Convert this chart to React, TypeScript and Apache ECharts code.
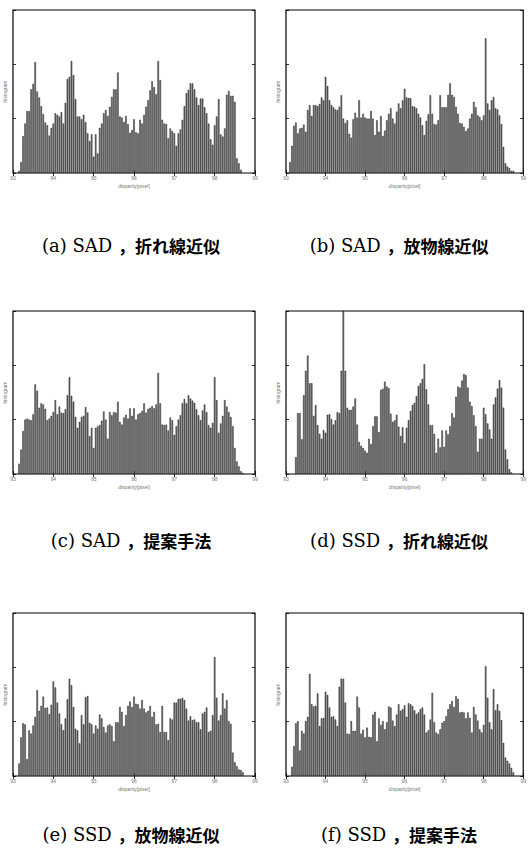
import React, { useEffect, useRef } from "react";
import * as echarts from "echarts";

// bin width of the disparity histograms
const BIN = 0.05;
const X_MIN = 93;
const X_MAX = 99;
const Y_MAX = 3;

// (a) SAD, 折れ線近似
const sadLinearStart = 93.15;
const sadLinear = [
  0.04, 0.2, 0.68, 0.91, 1.14, 1.14, 1.54, 1.64, 2.04, 1.5,
  1.39, 1.23, 1.08, 0.93, 0.88, 0.69, 0.83, 0.91, 1.1, 1.07,
  1.04, 1.12, 0.91, 1.29, 1.73, 1.77, 2.06, 1.8, 1.36, 1.04,
  1.04, 0.99, 1.07, 0.94, 0.73, 0.59, 0.71, 0.3, 0.71, 0.36,
  0.83, 0.91, 1.1, 1.16, 1.05, 1.22, 1.4, 1.54, 1.54, 1.85,
  1.04, 1.02, 0.94, 1.05, 0.9, 0.74, 0.79, 0.99, 0.75, 0.73,
  0.98, 0.91, 1.07, 1.22, 1.34, 1.52, 1.69, 1.58, 1.45, 2.06,
  1.71, 0.98, 0.91, 0.9, 0.64, 0.82, 0.77, 0.73, 0.5, 0.73,
  0.8, 0.98, 1.23, 1.47, 1.53, 1.65, 1.65, 1.54, 1.39, 1.25,
  1.37, 1.37, 1.21, 1.1, 0.91, 0.62, 0.52, 0.88, 1.04, 1.36,
  0.71, 0.67, 0.82, 1.44, 1.51, 1.42, 1.42, 1.31, 0.27, 0.18, 0.06,
];

// (b) SAD, 放物線近似
const sadParabolaStart = 93.1;
const sadParabola = [
  0.2, 0.5, 0.87, 0.93, 0.73, 0.82, 0.83, 0.89, 0.76, 1.16,
  1.25, 1.05, 1.25, 1.25, 1.23, 1.27, 1.39, 1.34, 1.77, 1.6,
  1.34, 1.25, 1.21, 1.17, 1.16, 1.22, 1.43, 1.0, 0.92, 0.97,
  0.72, 0.65, 0.99, 1.11, 1.02, 1.34, 1.02, 1.09, 1.02, 1.0,
  1.0, 1.14, 1.0, 0.7, 0.97, 0.76, 1.05, 0.68, 0.78, 0.97,
  1.09, 1.19, 1.0, 0.91, 1.13, 1.28, 1.19, 1.34, 1.55, 1.39,
  1.38, 1.38, 1.23, 1.22, 1.19, 1.09, 1.02, 0.88, 0.7, 0.96,
  1.08, 1.43, 1.09, 0.9, 0.89, 0.97, 1.43, 1.21, 1.21, 1.21,
  1.44, 1.65, 1.44, 1.4, 1.22, 1.09, 0.92, 0.91, 0.85, 0.77,
  0.82, 1.0, 1.09, 1.31, 1.21, 1.06, 1.03, 0.97, 1.06, 2.48,
  1.28, 1.16, 1.34, 1.4, 1.19, 1.17, 1.06, 0.9, 0.48, 0.18,
  0.12, 0.09, 0.04, 0.04,
];

// (c) SAD, 提案手法
const sadProposedStart = 93.15;
const sadProposed = [
  0.19, 0.45, 0.79, 1.0, 1.02, 1.0, 0.99, 1.1, 1.65, 1.53,
  1.22, 1.3, 1.28, 1.2, 0.99, 1.02, 1.07, 1.14, 1.36, 1.1,
  1.24, 1.13, 1.12, 1.19, 1.45, 1.78, 1.44, 1.33, 1.05, 0.85,
  0.96, 1.05, 1.07, 1.23, 1.13, 0.7, 0.85, 0.48, 0.85, 0.88,
  0.9, 0.98, 1.15, 1.0, 0.65, 1.14, 1.08, 1.14, 1.13, 1.33,
  0.96, 0.91, 1.04, 1.09, 1.02, 1.21, 1.07, 1.21, 1.0, 1.1,
  1.12, 1.16, 1.3, 1.13, 1.2, 1.22, 1.25, 1.21, 1.28, 1.86,
  1.3, 0.91, 0.9, 0.91, 0.8, 1.04, 0.99, 0.72, 0.88, 1.0,
  1.08, 1.3, 1.38, 1.3, 1.45, 1.39, 1.35, 1.31, 1.19, 1.08,
  0.99, 1.17, 1.28, 1.14, 0.9, 0.85, 0.94, 1.78, 1.36, 0.76,
  0.93, 1.07, 1.36, 1.24, 1.14, 1.05, 0.88, 0.48, 0.23, 0.14,
  0.05, 0.02,
];

// (d) SSD, 折れ線近似
const ssdLinearStart = 93.25;
const ssdLinear = [
  0.31, 1.12, 1.12, 0.64, 1.45, 1.9, 2.18, 1.67, 1.67, 1.07,
  1.27, 0.9, 0.74, 0.65, 0.81, 0.76, 1.09, 1.1, 1.01, 0.91,
  0.99, 1.14, 1.12, 1.9, 3.2, 1.9, 1.22, 1.18, 1.18, 1.24,
  1.39, 0.91, 0.59, 0.52, 0.48, 0.43, 0.39, 0.65, 0.55, 0.88,
  1.06, 1.06, 0.77, 1.55, 1.57, 1.7, 1.61, 1.58, 1.11, 0.96,
  0.99, 1.09, 0.87, 0.7, 0.86, 0.57, 0.85, 0.99, 1.16, 1.27,
  1.31, 1.43, 1.62, 1.67, 1.75, 2.02, 1.56, 1.28, 0.9, 0.9,
  0.74, 0.39, 0.65, 0.49, 0.8, 0.5, 0.8, 0.73, 0.88, 1.12,
  1.04, 1.42, 1.61, 1.59, 1.72, 1.84, 1.82, 1.59, 1.33, 1.25,
  1.08, 0.88, 0.41, 0.65, 0.65, 1.22, 1.1, 0.93, 0.82, 0.65,
  1.28, 1.41, 1.57, 1.73, 1.59, 1.22, 0.45, 0.27, 0.09, 0.03,
];

// (e) SSD, 放物線近似
const ssdParabolaStart = 93.15;
const ssdParabola = [
  0.23, 0.71, 0.97, 0.95, 0.31, 0.84, 0.78, 0.93, 1.09, 1.58,
  1.2, 1.29, 1.46, 1.25, 1.26, 1.14, 1.31, 1.74, 1.63, 1.35,
  1.15, 0.95, 0.84, 1.06, 1.41, 1.79, 1.67, 1.27, 0.87, 0.84,
  0.6, 1.12, 0.95, 1.45, 1.47, 0.98, 0.95, 0.78, 0.93, 0.87,
  1.13, 1.06, 0.9, 0.8, 0.93, 0.95, 0.92, 0.64, 0.99, 0.99,
  1.27, 1.18, 0.92, 1.12, 1.29, 1.37, 1.27, 1.46, 1.33, 1.32,
  1.24, 1.4, 1.24, 1.17, 1.2, 1.29, 1.09, 1.18, 0.95, 0.96,
  0.81, 1.29, 0.81, 0.81, 0.66, 1.06, 1.04, 1.35, 1.35, 1.42,
  1.42, 1.44, 1.4, 1.24, 1.02, 1.1, 1.03, 1.04, 0.99, 0.99,
  0.86, 1.15, 1.18, 1.26, 0.81, 0.83, 1.12, 2.19, 1.44, 1.02,
  1.12, 1.52, 1.24, 1.4, 1.01, 0.96, 0.43, 0.25, 0.18, 0.12,
  0.11, 0.07,
];

// (f) SSD, 提案手法
const ssdProposedStart = 93.15;
const ssdProposed = [
  0.17, 0.55, 0.97, 1.01, 0.47, 0.83, 0.78, 1.01, 1.09, 1.88,
  1.32, 1.28, 1.29, 1.52, 0.92, 1.06, 1.07, 1.55, 1.49, 1.26,
  1.09, 1.1, 1.04, 0.92, 1.64, 1.79, 1.79, 1.35, 0.78, 0.77,
  1.01, 0.83, 0.83, 1.46, 1.26, 0.78, 0.85, 0.71, 0.89, 0.72,
  0.71, 1.13, 1.18, 0.64, 1.06, 0.94, 1.01, 0.86, 0.99, 1.28,
  1.26, 1.02, 0.92, 1.13, 1.32, 1.2, 1.23, 1.3, 1.09, 1.34,
  1.32, 1.29, 1.21, 1.14, 1.17, 1.23, 1.26, 1.13, 0.8, 0.84,
  1.04, 1.53, 0.99, 0.8, 0.77, 0.86, 0.98, 1.01, 1.1, 1.23,
  1.32, 1.38, 1.27, 1.47, 1.42, 1.17, 1.18, 1.17, 1.06, 1.17,
  1.07, 0.8, 1.27, 1.13, 1.02, 0.86, 0.8, 0.94, 2.02, 1.44,
  0.99, 0.86, 1.6, 1.21, 1.32, 1.2, 1.03, 0.61, 0.34, 0.28,
  0.23, 0.15, 0.07,
];

const captionLatin = ["(a) SAD ", "(b) SAD ", "(c) SAD ", "(d) SSD ", "(e) SSD ", "(f) SSD "];
const captionJa = ["，折れ線近似", "，放物線近似", "，提案手法", "，折れ線近似", "，放物線近似", "，提案手法"];
const xAxisName = "disparity[pixel]";
const yAxisName = "histogram";

const series = [
  { start: sadLinearStart, values: sadLinear },
  { start: sadParabolaStart, values: sadParabola },
  { start: sadProposedStart, values: sadProposed },
  { start: ssdLinearStart, values: ssdLinear },
  { start: ssdParabolaStart, values: ssdParabola },
  { start: ssdProposedStart, values: ssdProposed },
];

// layout (pixels)
const COL_LEFT = [13, 286];
const COL_WIDTH = [242, 243];
const ROW_TOP = [10, 311, 613];
const PLOT_H = 163;
const CAP_X = [131, 399];
const CAP_Y = [245, 540, 834];

const SMALL_FONT = "Liberation Sans, Arial, sans-serif";

export default function App() {
  const ref = useRef<HTMLDivElement>(null);

  useEffect(() => {
    if (!ref.current) return;
    const chart = echarts.init(ref.current, undefined, { renderer: "svg" });

    const grids: any[] = [];
    const xAxes: any[] = [];
    const yAxes: any[] = [];
    const seriesOpts: any[] = [];
    const graphics: any[] = [];

    series.forEach((s, i) => {
      const col = i % 2;
      const row = Math.floor(i / 2);
      grids.push({
        left: COL_LEFT[col],
        top: ROW_TOP[row],
        width: COL_WIDTH[col],
        height: PLOT_H,
        show: true,
        borderColor: "#000",
        borderWidth: 1.2,
        backgroundColor: "transparent",
        containLabel: false,
      });
      const tick = { show: true, inside: true, length: 3, lineStyle: { color: "#000", width: 0.8 } };
      xAxes.push({
        gridIndex: i,
        type: "value",
        position: "bottom",
        min: X_MIN,
        max: X_MAX,
        interval: 1,
        axisLine: { show: false },
        axisTick: tick,
        splitLine: { show: false },
        axisLabel: { fontSize: 5, color: "#777", margin: 2, fontFamily: SMALL_FONT },
        name: xAxisName,
        nameLocation: "middle",
        nameGap: 10,
        nameTextStyle: { fontSize: 5, color: "#777", fontFamily: SMALL_FONT },
      });
      xAxes.push({
        gridIndex: i,
        type: "value",
        position: "top",
        min: X_MIN,
        max: X_MAX,
        interval: 1,
        axisLine: { show: false },
        axisTick: tick,
        splitLine: { show: false },
        axisLabel: { show: false },
      });
      yAxes.push({
        gridIndex: i,
        type: "value",
        position: "left",
        min: 0,
        max: Y_MAX,
        interval: 1,
        axisLine: { show: false },
        axisTick: tick,
        splitLine: { show: false },
        axisLabel: { show: false },
        name: yAxisName,
        nameLocation: "middle",
        nameGap: 6,
        nameRotate: 90,
        nameTextStyle: { fontSize: 5, color: "#777", fontFamily: SMALL_FONT },
      });
      yAxes.push({
        gridIndex: i,
        type: "value",
        position: "right",
        min: 0,
        max: Y_MAX,
        interval: 1,
        axisLine: { show: false },
        axisTick: tick,
        splitLine: { show: false },
        axisLabel: { show: false },
      });
      seriesOpts.push({
        type: "bar",
        xAxisIndex: 2 * i,
        yAxisIndex: 2 * i,
        data: s.values.map((v, k) => [s.start + k * BIN, v]),
        barWidth: 1.5,
        clip: true,
        silent: true,
        itemStyle: { color: "#767676", borderColor: "#000", borderWidth: 0.4 },
      });
      graphics.push({
        type: "text",
        x: CAP_X[col],
        y: CAP_Y[row],
        style: {
          text: `{l|${captionLatin[i]}}{j|${captionJa[i]}}`,
          align: "center",
          verticalAlign: "middle",
          rich: {
            l: { fontFamily: "DejaVu Serif", fontSize: 18, fill: "#000", color: "#000" },
            j: { fontFamily: "Noto Sans CJK JP", fontSize: 17, fontWeight: "bold", fill: "#000", color: "#000" },
          },
        },
      });
    });

    chart.setOption({
      animation: false,
      backgroundColor: "#fff",
      grid: grids,
      xAxis: xAxes,
      yAxis: yAxes,
      series: seriesOpts,
      graphic: graphics,
    });

    return () => chart.dispose();
  }, []);

  return (
    <div
      ref={ref}
      style={{ position: "absolute", left: 0, top: 0, width: 529, height: 855 }}
    />
  );
}
